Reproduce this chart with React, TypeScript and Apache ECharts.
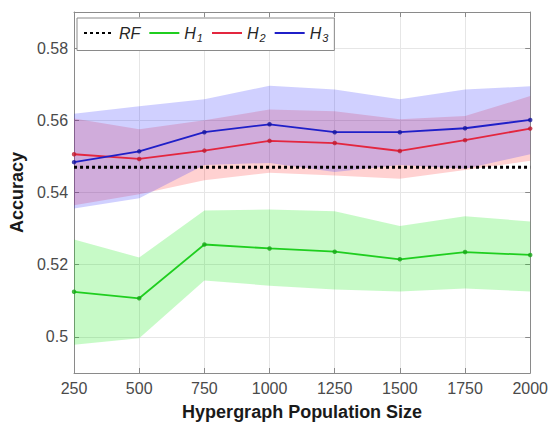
import React, { useEffect, useRef } from "react";
import * as echarts from "echarts";

const sizes = [250, 500, 750, 1000, 1250, 1500, 1750, 2000];
const rfAccuracy = 0.547;

const h1Mean = [0.5125, 0.5107, 0.5256, 0.5245, 0.5236, 0.5215, 0.5235, 0.5227];
const h1Upper = [0.527, 0.522, 0.535, 0.5353, 0.5348, 0.5307, 0.5334, 0.532];
const h1Lower = [0.4978, 0.4996, 0.5156, 0.5142, 0.5131, 0.5126, 0.5134, 0.5126];

const h2Mean = [0.5506, 0.5493, 0.5516, 0.5543, 0.5537, 0.5515, 0.5545, 0.5577];
const h2Upper = [0.5605, 0.5575, 0.56, 0.563, 0.5625, 0.5603, 0.5612, 0.5667];
const h2Lower = [0.5365, 0.5395, 0.5434, 0.5455, 0.5447, 0.5438, 0.5462, 0.5488];

const h3Mean = [0.5484, 0.5514, 0.5567, 0.5589, 0.5567, 0.5567, 0.5578, 0.5601];
const h3Upper = [0.5618, 0.5639, 0.5658, 0.5696, 0.5685, 0.5658, 0.5685, 0.5694];
const h3Lower = [0.5356, 0.5384, 0.5476, 0.5482, 0.5457, 0.5476, 0.5466, 0.5506];

const yTicks = [0.5, 0.52, 0.54, 0.56, 0.58];
const legendNames = ["RF", "H1", "H2", "H3"];

const FONT = "'Liberation Sans', Arial, Helvetica, sans-serif";
const GREEN = "#1fce1f";
const RED = "#e3263f";
const BLUE = "#1f1fc8";
const FRAME = "#8a8a8a";

export default function App() {
  const ref = useRef<HTMLDivElement>(null);
  useEffect(() => {
    const chart = echarts.init(ref.current!, null, { renderer: "svg" });
    const cats = sizes.map(String);
    const band = (key: string, lower: number[], upper: number[], color: string) => [
      {
        type: "line",
        stack: key,
        data: lower,
        symbol: "none",
        lineStyle: { opacity: 0 },
        silent: true,
        z: 1,
      },
      {
        type: "line",
        stack: key,
        data: upper.map((u, i) => u - lower[i]),
        symbol: "none",
        lineStyle: { opacity: 0 },
        areaStyle: { color, opacity: 1 },
        silent: true,
        z: 1,
      },
    ];
    const meanLine = (name: string, data: number[], color: string) => ({
      type: "line",
      name,
      data,
      symbol: "none",
      lineStyle: { color, width: 1.8 },
      itemStyle: { color },
      z: 3,
    });
    const dots = (data: number[], color: string) => ({
      type: "scatter",
      data,
      symbol: "circle",
      symbolSize: 4.5,
      itemStyle: { color },
      silent: true,
      z: 4,
    });

    const xCommon = {
      type: "category",
      data: cats,
      boundaryGap: false,
      axisLine: { show: true, onZero: false, lineStyle: { color: FRAME, width: 1 } },
      axisTick: { show: true, inside: true, length: 5, alignWithLabel: true, lineStyle: { color: FRAME } },
    };

    chart.setOption({
      animation: false,
      grid: { left: 69, right: 20, top: 12, bottom: 50, show: false },
      legend: {
        left: 77,
        top: 18,
        data: legendNames,
        itemWidth: 30,
        itemHeight: 14,
        itemGap: 8,
        padding: [7, 6, 7, 6],
        borderColor: FRAME,
        borderWidth: 1,
        borderRadius: 0,
        backgroundColor: "#ffffff",
        selectedMode: false,
        itemStyle: { opacity: 0 },
        formatter: (name: string) =>
          name === "RF" ? "{i|RF}" : `{i|H}{s|${name.slice(1)}}`,
        textStyle: {
          color: "#262626",
          fontFamily: FONT,
          rich: {
            i: { fontSize: 16, fontStyle: "italic", color: "#262626", fontFamily: FONT },
            s: {
              fontSize: 11,
              fontStyle: "italic",
              color: "#262626",
              fontFamily: FONT,
              padding: [10, 0, 0, 1],
            },
          },
        },
      },
      xAxis: [
        {
          ...xCommon,
          name: "Hypergraph Population Size",
          nameLocation: "middle",
          nameGap: 30,
          nameTextStyle: { fontFamily: FONT, fontSize: 18, fontWeight: "bold", color: "#1a1a1a" },
          axisLabel: { fontFamily: FONT, fontSize: 16, color: "#4a4a4a", margin: 7, interval: 0 },
          splitLine: { show: true, interval: 0, lineStyle: { color: "#e6e6e6", width: 1 } },
        },
        {
          ...xCommon,
          position: "top",
          axisLabel: { show: false },
          splitLine: { show: false },
        },
      ],
      yAxis: [
        {
          type: "value",
          min: 0.49,
          max: 0.59,
          name: "Accuracy",
          nameLocation: "middle",
          nameGap: 42,
          nameTextStyle: { fontFamily: FONT, fontSize: 18, fontWeight: "bold", color: "#1a1a1a" },
          axisLine: { show: true, onZero: false, lineStyle: { color: FRAME, width: 1 } },
          axisTick: {
            show: true,
            inside: true,
            length: 5,
            customValues: yTicks,
            lineStyle: { color: FRAME },
          },
          axisLabel: {
            fontFamily: FONT,
            fontSize: 16,
            color: "#4a4a4a",
            margin: 6,
            customValues: yTicks,
            formatter: (v: number) => String(parseFloat(v.toFixed(2))),
          },
          splitLine: { show: true, lineStyle: { color: "#e6e6e6", width: 1 } },
        },
        {
          type: "value",
          position: "right",
          min: 0.49,
          max: 0.59,
          axisLine: { show: true, onZero: false, lineStyle: { color: FRAME, width: 1 } },
          axisTick: {
            show: true,
            inside: true,
            length: 5,
            customValues: yTicks,
            lineStyle: { color: FRAME },
          },
          axisLabel: { show: false, customValues: yTicks },
          splitLine: { show: false },
        },
      ],
      series: [
        ...band("g", h1Lower, h1Upper, "rgba(0,230,0,0.22)"),
        ...band("r", h2Lower, h2Upper, "rgba(255,0,0,0.18)"),
        ...band("b", h3Lower, h3Upper, "rgba(40,40,255,0.22)"),
        {
          type: "line",
          name: "RF",
          data: sizes.map(() => rfAccuracy),
          symbol: "none",
          lineStyle: { color: "#000000", width: 3, type: [3, 3] },
          itemStyle: { color: "#000000" },
          z: 3,
        },
        meanLine("H1", h1Mean, GREEN),
        meanLine("H2", h2Mean, RED),
        meanLine("H3", h3Mean, BLUE),
        dots(h1Mean, "#17a817"),
        dots(h2Mean, "#c01a30"),
        dots(h3Mean, "#16169e"),
      ],
    });
    return () => chart.dispose();
  }, []);
  return <div ref={ref} style={{ width: 551, height: 426, position: "absolute", left: 0, top: 0 }} />;
}
